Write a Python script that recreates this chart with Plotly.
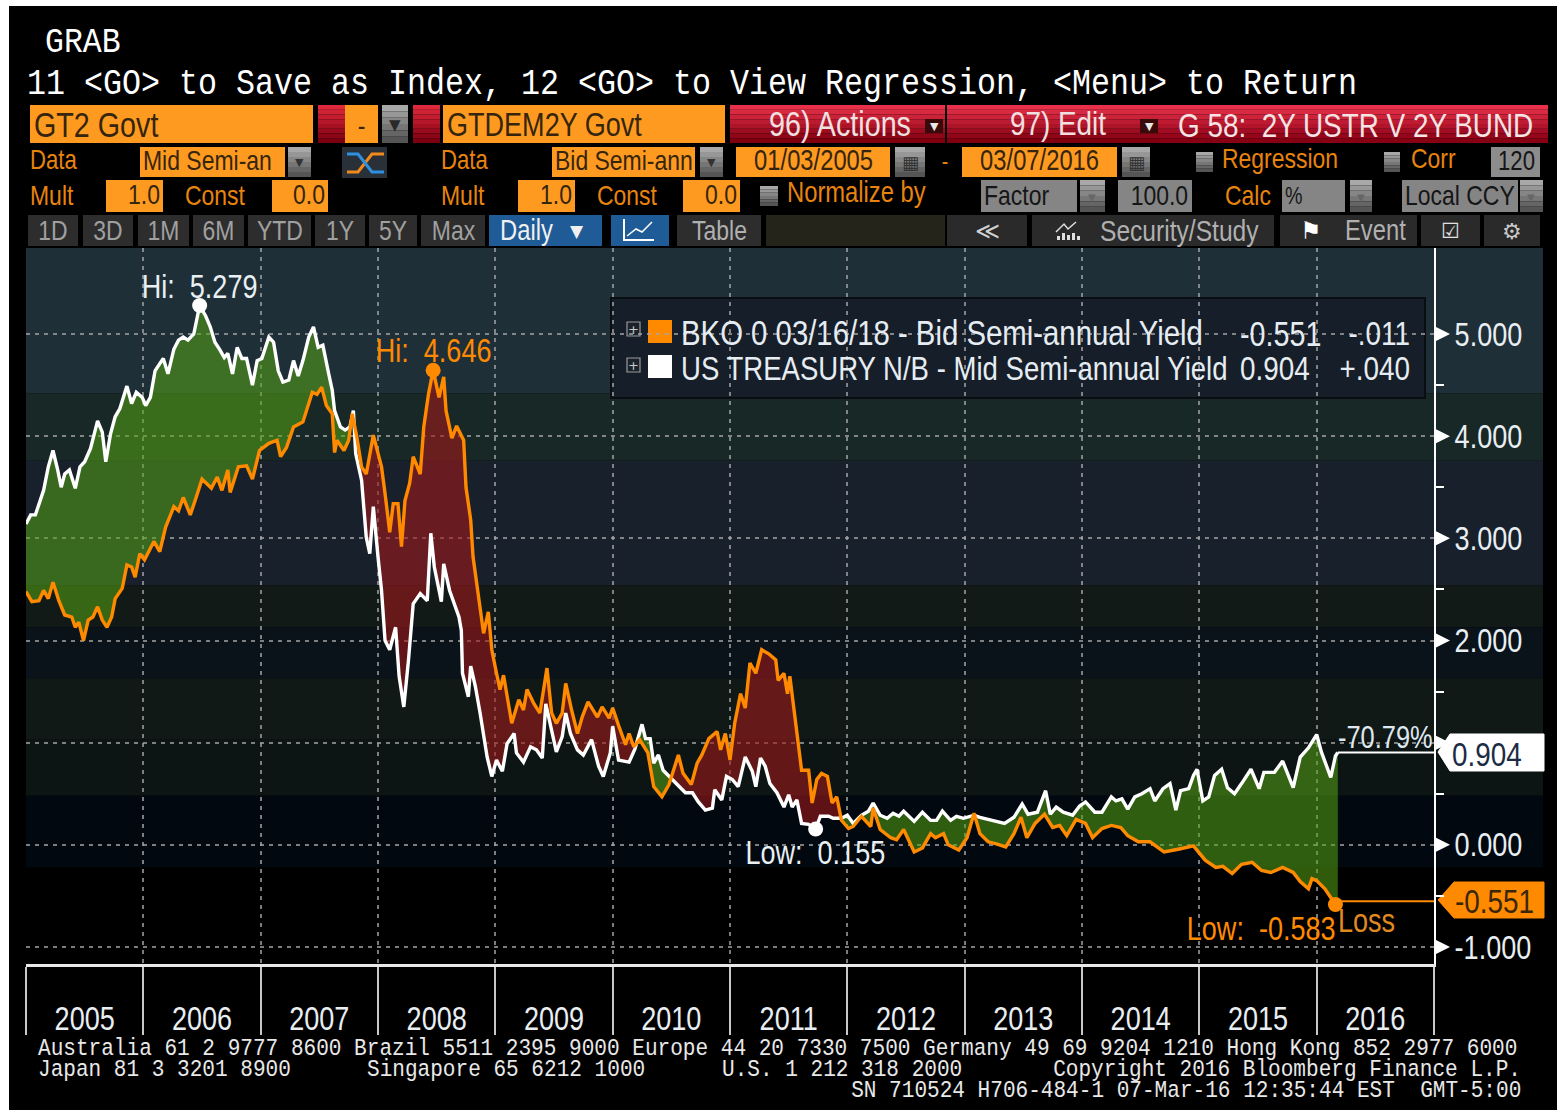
import numpy as np
import plotly.graph_objects as go

# ---------------- data (year fraction, yield) ----------------
white_x = [2005.00,2005.04,2005.08,2005.11,2005.15,2005.19,2005.23,2005.27,2005.30,2005.33,2005.37,2005.42,2005.46,2005.50,2005.55,2005.59,2005.61,2005.65,2005.68,2005.72,2005.76,2005.80,2005.84,2005.86,2005.90,2005.94,2005.99,
 2006.02,2006.06,2006.10,2006.14,2006.17,2006.21,2006.26,2006.30,2006.34,2006.38,2006.43,2006.48,2006.53,2006.57,2006.61,2006.65,2006.69,2006.72,2006.76,2006.80,2006.84,2006.88,2006.93,2006.97,
 2007.01,2007.07,2007.11,2007.15,2007.19,2007.24,2007.28,2007.32,2007.36,2007.41,2007.45,2007.49,2007.53,2007.58,2007.61,2007.63,2007.68,2007.72,2007.76,2007.79,2007.81,2007.86,2007.90,2007.93,2007.96,
 2008.00,2008.03,2008.06,2008.10,2008.15,2008.18,2008.22,2008.26,2008.30,2008.36,2008.42,2008.45,2008.48,2008.54,2008.56,2008.61,2008.69,2008.71,2008.72,2008.75,2008.77,2008.79,2008.83,2008.87,2008.93,2008.97,
 2009.01,2009.06,2009.10,2009.16,2009.18,2009.24,2009.30,2009.35,2009.40,2009.43,2009.47,2009.52,2009.57,2009.60,2009.64,2009.70,2009.75,2009.82,2009.88,2009.92,2009.98,
 2010.00,2010.05,2010.14,2010.19,2010.25,2010.28,2010.32,2010.35,2010.39,2010.43,2010.50,2010.56,2010.62,2010.68,2010.73,2010.79,2010.85,2010.87,2010.93,2010.97,
 2011.02,2011.07,2011.13,2011.19,2011.22,2011.26,2011.30,2011.34,2011.40,2011.46,2011.50,2011.53,2011.57,2011.61,2011.67,2011.73,2011.77,2011.84,2011.88,2011.95,
 2012.00,2012.05,2012.12,2012.18,2012.22,2012.28,2012.34,2012.39,2012.44,2012.48,2012.57,2012.64,2012.71,2012.76,2012.81,2012.88,2012.93,2012.99,
 2013.08,2013.13,2013.23,2013.34,2013.42,2013.49,2013.54,2013.62,2013.69,2013.73,2013.78,2013.84,2013.92,2013.98,
 2014.03,2014.11,2014.17,2014.25,2014.29,2014.34,2014.39,2014.45,2014.51,2014.58,2014.62,2014.69,2014.75,2014.80,2014.84,2014.91,2014.95,2014.98,
 2015.03,2015.08,2015.13,2015.19,2015.24,2015.30,2015.36,2015.44,2015.51,2015.55,2015.64,2015.71,2015.80,2015.86,2015.93,
 2016.00,2016.04,2016.12,2016.16,2016.18]
white_y = [3.14,3.23,3.23,3.34,3.47,3.70,3.86,3.67,3.50,3.63,3.67,3.49,3.70,3.75,3.88,4.06,4.15,4.04,3.75,4.02,4.19,4.27,4.42,4.49,4.32,4.43,4.38,
 4.30,4.38,4.64,4.71,4.76,4.61,4.85,4.94,4.97,4.94,5.00,5.279,5.18,5.07,4.92,4.85,4.77,4.81,4.61,4.87,4.76,4.76,4.50,4.74,
 4.76,4.97,4.92,4.64,4.53,4.55,4.74,4.59,4.74,4.97,5.07,4.87,4.89,4.61,4.45,4.25,4.09,4.06,4.09,4.25,3.83,3.57,3.01,2.85,3.31,
 2.82,2.49,2.00,1.91,2.13,1.65,1.35,1.81,2.36,2.46,2.39,3.05,2.72,2.38,2.75,2.49,2.23,2.10,1.68,1.55,1.45,1.75,1.55,1.29,0.86,0.67,
 0.83,0.72,0.99,1.09,0.90,0.81,0.96,0.93,0.85,1.38,1.16,0.91,1.06,1.29,1.09,0.93,0.88,1.03,0.77,0.67,0.90,
 1.16,0.83,0.81,0.94,1.18,1.04,1.04,0.80,0.88,0.73,0.65,0.57,0.51,0.51,0.42,0.34,0.36,0.54,0.44,0.67,
 0.64,0.57,0.86,0.72,0.57,0.85,0.77,0.60,0.51,0.37,0.49,0.37,0.44,0.21,0.20,0.155,0.28,0.28,0.26,0.26,
 0.29,0.21,0.29,0.33,0.41,0.29,0.26,0.31,0.28,0.33,0.23,0.32,0.24,0.24,0.33,0.24,0.28,0.26,
 0.29,0.27,0.24,0.21,0.27,0.40,0.30,0.32,0.53,0.30,0.37,0.32,0.29,0.38,
 0.42,0.32,0.32,0.47,0.43,0.45,0.35,0.47,0.50,0.55,0.43,0.55,0.60,0.34,0.53,0.55,0.68,0.74,
 0.43,0.47,0.68,0.74,0.56,0.50,0.60,0.74,0.55,0.71,0.71,0.82,0.56,0.86,0.95,
 1.08,0.91,0.66,0.87,0.904]

orange_x = [2005.00,2005.05,2005.11,2005.15,2005.19,2005.23,2005.28,2005.33,2005.39,2005.42,2005.45,2005.49,2005.53,2005.57,2005.61,2005.65,2005.69,2005.73,2005.76,2005.82,2005.86,2005.90,2005.93,2005.97,
 2006.01,2006.09,2006.14,2006.19,2006.26,2006.30,2006.34,2006.40,2006.45,2006.50,2006.58,2006.63,2006.67,2006.72,2006.74,2006.81,2006.88,2006.93,2006.99,
 2007.07,2007.14,2007.17,2007.22,2007.28,2007.36,2007.44,2007.48,2007.52,2007.56,2007.61,2007.63,2007.65,2007.71,2007.75,2007.78,2007.82,2007.86,2007.90,2007.96,
 2008.03,2008.06,2008.10,2008.13,2008.17,2008.20,2008.23,2008.27,2008.30,2008.36,2008.39,2008.43,2008.47,2008.52,2008.56,2008.58,2008.63,2008.67,2008.73,2008.75,2008.79,2008.81,2008.87,2008.90,2008.94,2008.97,
 2009.01,2009.04,2009.07,2009.10,2009.14,2009.20,2009.24,2009.27,2009.33,2009.38,2009.44,2009.48,2009.52,2009.57,2009.60,2009.65,2009.70,2009.74,2009.79,2009.87,2009.91,2009.97,
 2010.00,2010.05,2010.11,2010.14,2010.18,2010.23,2010.30,2010.35,2010.42,2010.48,2010.56,2010.60,2010.67,2010.72,2010.76,2010.82,2010.89,2010.92,2010.96,
 2011.00,2011.04,2011.09,2011.13,2011.17,2011.22,2011.27,2011.33,2011.39,2011.41,2011.46,2011.49,2011.51,2011.56,2011.60,2011.61,2011.67,2011.70,2011.74,2011.78,2011.83,2011.87,2011.91,2011.95,
 2012.01,2012.05,2012.12,2012.20,2012.22,2012.28,2012.37,2012.42,2012.48,2012.57,2012.64,2012.71,2012.75,2012.82,2012.86,2012.95,
 2013.02,2013.08,2013.13,2013.20,2013.27,2013.35,2013.42,2013.48,2013.53,2013.60,2013.68,2013.75,2013.81,2013.87,2013.95,
 2014.03,2014.09,2014.17,2014.25,2014.33,2014.39,2014.48,2014.58,2014.70,2014.83,2014.95,
 2015.05,2015.14,2015.20,2015.28,2015.36,2015.45,2015.53,2015.61,2015.71,2015.80,2015.86,2015.93,2015.96,
 2016.00,2016.07,2016.13,2016.16,2016.18]
orange_y = [2.48,2.38,2.39,2.49,2.41,2.57,2.39,2.25,2.23,2.13,2.18,2.00,2.20,2.23,2.33,2.20,2.13,2.23,2.41,2.51,2.74,2.72,2.62,2.85,
 2.79,2.97,2.87,3.11,3.31,3.27,3.40,3.23,3.40,3.58,3.49,3.60,3.47,3.67,3.45,3.70,3.71,3.58,3.86,
 3.93,3.96,3.80,3.89,4.09,4.14,4.43,4.41,4.48,4.30,4.22,3.84,3.96,3.86,3.96,4.22,3.99,3.70,3.63,4.01,
 3.70,3.44,3.06,3.34,3.34,2.92,3.37,3.54,3.80,3.63,4.09,4.41,4.646,4.38,4.58,4.25,3.98,4.10,3.96,3.50,3.18,2.82,2.30,2.07,2.28,1.91,
 1.68,1.52,1.66,1.45,1.19,1.42,1.32,1.52,1.38,1.29,1.73,1.29,1.19,1.29,1.58,1.32,1.09,1.25,1.40,1.25,1.35,1.24,
 1.34,1.17,0.98,1.09,0.96,1.03,0.90,0.57,0.47,0.59,0.88,0.70,0.59,0.80,0.88,1.04,1.11,0.93,1.09,
 0.83,1.19,1.48,1.34,1.78,1.68,1.91,1.87,1.81,1.61,1.68,1.48,1.65,1.22,0.83,0.73,0.73,0.41,0.64,0.70,0.67,0.41,0.47,0.24,
 0.16,0.18,0.28,0.18,0.36,0.15,0.07,0.05,0.15,-0.07,-0.03,0.11,0.07,0.11,0.00,-0.05,
 0.07,0.31,0.11,0.03,0.01,-0.02,0.11,0.27,0.07,0.21,0.30,0.17,0.19,0.09,0.25,
 0.21,0.07,0.16,0.19,0.17,0.09,0.03,0.03,-0.07,-0.04,-0.01,
 -0.15,-0.22,-0.21,-0.28,-0.19,-0.17,-0.25,-0.27,-0.22,-0.27,-0.36,-0.43,-0.33,
 -0.35,-0.43,-0.53,-0.583,-0.551]

year_labels = ["2005","2006","2007","2008","2009","2010","2011","2012","2013","2014","2015","2016"]
y_ticks = [-1,0,1,2,3,4,5]
y_ticktext = ["-1.000","0.000","","2.000","3.000","4.000","5.000"]
y_minor = [-0.5,0.5,1.5,2.5,3.5,4.5]
band_edges = [5.85,4.42,3.76,2.54,2.13,1.63,1.03,0.48,-0.22]
band_colors = ["#1f2f38","#182826","#18202c","#121a18","#0a121a","#111917","#0d1514","#02080f"]

WHITE="#ffffff"; ORANGE="#ff8a00"
NARROW="Liberation Sans"
MONO="Liberation Mono"
SANS="DejaVu Sans"
W,H=1557,1116
L,T,R,B=26,248,1434,964
NB="\u00a0"

def px(x): return (x-L)/(R-L)
def py(y): return (B-y)/(B-T)

shapes=[]; annots=[]
def box(x0,y0,x1,y1,c,lc=None,lw=0,layer="below"):
    shapes.append(dict(type="rect",xref="paper",yref="paper",x0=px(x0),x1=px(x1),y0=py(y0),y1=py(y1),
        fillcolor=c,line=dict(color=lc or c,width=lw),layer=layer))
def hexrgb(c): return [int(c[i:i+2],16) for i in (1,3,5)]
def grad(x0,y0,x1,y1,c0,c1,n=8):
    a,b=hexrgb(c0),hexrgb(c1)
    for i in range(n):
        t=i/(n-1)
        col="rgb(%d,%d,%d)"%tuple(a[k]+(b[k]-a[k])*t for k in range(3))
        box(x0,y0+(y1-y0)*i/n,x1,y0+(y1-y0)*(i+1)/n,col)
def txt(x,y,s,c="#ffffff",size=28,font=NARROW,anchor="left"):
    annots.append(dict(xref="paper",yref="paper",x=px(x),y=py(y),text=s,showarrow=False,xanchor=anchor,yanchor="middle",align=anchor,
        font=dict(family=font,size=size,color=c),borderpad=0,borderwidth=0))
def path(pts,c,w=2,close=False,fill=None):
    d="M"+" L".join("%f,%f"%(px(a),py(b)) for a,b in pts)+(" Z" if close else "")
    shapes.append(dict(type="path",xref="paper",yref="paper",path=d,line=dict(color=c,width=w),
        fillcolor=fill or "rgba(0,0,0,0)",layer="below"))

# page frame
box(9,6,W+5,1110,"#000000")
# chart bands
for i,c in enumerate(band_colors):
    shapes.append(dict(type="rect",xref="paper",yref="y",x0=0,x1=px(1543),y0=band_edges[i+1],y1=band_edges[i],
        fillcolor=c,line=dict(width=0),layer="below"))

OR="#ff9a21"; DK="#35250c"; LBL="#e8840e"
def grey(x0,y0,x1,y1): grad(x0,y0,x1,y1,"#a8a8a8","#555555",6)
def arrow(x,y,c="#2a2a2a",s=15): txt(x,y,"▼",c,s,SANS,"center")

txt(45,43,"GRAB","#ffffff",36,MONO)
txt(27,85,"11 &lt;GO&gt; to Save as Index, 12 &lt;GO&gt; to View Regression, &lt;Menu&gt; to Return","#ffffff",36.2,MONO)
# row 1
box(30,105,313,143,OR); txt(34,124,"GT2 Govt",DK,35)
grad(318,105,345,143,"#e0283c","#7c0010"); box(345,105,378,143,OR); txt(361,125,"-",DK,28,NARROW,"center")
grey(382,105,408,143); arrow(395,125)
grad(413,105,440,143,"#e0283c","#7c0010")
box(443,105,725,143,OR); txt(447,124,"GTDEM2Y Govt",DK,33)
grad(730,105,945,143,"#e8304a","#800010"); grad(947,105,1160,143,"#e8304a","#800010"); grad(1160,105,1548,143,"#e8304a","#880014")
txt(769,123,"96) Actions","#f2e0e0",35); box(925,119,943,133,"#3a0a0a"); arrow(934,126,"#e8e8e8",11)
txt(1010,123,"97) Edit","#f2e0e0",34); box(1140,119,1158,133,"#3a0a0a"); arrow(1149,126,"#e8e8e8",11)
txt(1178,125,"G 58:"+NB+NB+"2Y USTR V 2Y BUND","#f5e4e4",34)
# row 2
txt(30,160,"Data",LBL,27)
box(140,147,285,177,OR); txt(143,160,"Mid Semi-an",DK,28)
grey(288,147,311,177); arrow(299,162,"#333",11)
box(342,147,387,178,"#2a3038")
path([(347,172),(358,172),(372,154),(384,154)],"#f08a1c",3); path([(347,154),(358,154),(372,172),(384,172)],"#2f8fe0",3)
txt(441,160,"Data",LBL,27)
box(552,147,695,177,OR); txt(555,160,"Bid Semi-ann",DK,28)
grey(700,147,723,177); arrow(711,162,"#333",11)
box(736,147,890,177,OR); txt(813,160,"01/03/2005",DK,29,NARROW,"center")
grey(895,147,925,177); txt(910,162,"▦","#333",18,SANS,"center")
txt(945,160,"-",LBL,24,NARROW,"center")
box(962,147,1117,177,OR); txt(1039,160,"03/07/2016",DK,29,NARROW,"center")
grey(1122,147,1150,177); txt(1136,162,"▦","#333",18,SANS,"center")
grey(1196,152,1213,172); txt(1222,158,"Regression",LBL,28)
grey(1384,152,1400,172); txt(1411,158,"Corr",LBL,28)
box(1491,147,1540,177,"#8c8c8c"); txt(1516,161,"120","#151515",27,NARROW,"center")
# row 3
txt(30,195,"Mult",LBL,28)
box(106,180,163,212,OR); txt(160,194,"1.0",DK,28,NARROW,"right")
txt(185,195,"Const",LBL,28)
box(272,180,328,212,OR); txt(325,194,"0.0",DK,28,NARROW,"right")
txt(441,195,"Mult",LBL,28)
box(518,180,575,212,OR); txt(572,194,"1.0",DK,28,NARROW,"right")
txt(597,195,"Const",LBL,28)
box(683,180,740,212,OR); txt(737,194,"0.0",DK,28,NARROW,"right")
grey(760,186,778,206); txt(787,192,"Normalize by",LBL,29)
box(981,180,1077,212,"#858585"); txt(984,195,"Factor","#151515",28)
grey(1080,180,1105,212); arrow(1092,197,"#666",10)
box(1118,180,1192,212,"#858585"); txt(1188,195,"100.0","#151515",28,NARROW,"right")
txt(1225,195,"Calc",LBL,28)
box(1282,180,1345,212,"#858585"); txt(1285,195,"%","#151515",24)
grey(1350,180,1372,212); arrow(1361,197,"#666",10)
box(1402,180,1518,212,"#858585"); txt(1405,195,"Local CCY","#151515",28)
grey(1520,180,1543,212); arrow(1531,197,"#666",10)
# row 4
for x0,x1,s in [(28,78,"1D"),(83,133,"3D"),(138,189,"1M"),(193,244,"6M"),(248,311,"YTD"),(315,365,"1Y"),(369,417,"5Y"),(421,485,"Max")]:
    box(x0,215,x1,246,"#2d2d2d"); txt((x0+x1)/2,230,s,"#a0a0a0",28,NARROW,"center")
box(489,215,602,246,"#1f5b96"); txt(500,230,"Daily","#f0f0f0",29); txt(577,231,"▼","#f0f0f0",17,SANS,"center")
box(611,215,669,246,"#1f5b96")
path([(624,219),(624,240),(654,240)],"#ffffff",2); path([(627,236),(636,229),(642,232),(652,222)],"#ffffff",1.5)
box(677,215,761,246,"#2d2d2d"); txt(719,230,"Table","#b0b0b0",28,NARROW,"center")
box(766,215,945,246,"#25241a")
box(947,215,1027,246,"#2a2a2a"); txt(987,231,"≪","#d0d0d0",24,SANS,"center")
box(1032,215,1274,246,"#2a2a2a"); txt(1100,230,"Security/Study","#b0b0b0",30)
path([(1056,232),(1064,224),(1068,229),(1076,222)],"#e0e0e0",1.5)
for xb,h in [(1057,4),(1062,7),(1067,5),(1072,7),(1077,4)]:
    box(xb,240-h,xb+3,240,"#e0e0e0")
box(1280,215,1417,246,"#2a2a2a"); txt(1311,231,"⚑","#ffffff",24,SANS,"center"); txt(1345,230,"Event","#b0b0b0",29)
box(1421,215,1480,246,"#2a2a2a"); txt(1451,231,"☑","#e0e0e0",21,SANS,"center")
box(1484,215,1540,246,"#2a2a2a"); txt(1512,231,"⚙","#c8c8c8",22,SANS,"center")

# legend panel
shapes.append(dict(type="rect",xref="paper",yref="paper",x0=px(611),x1=px(1425),y0=py(398),y1=py(298),
    fillcolor="rgba(22,30,40,0.95)",line=dict(color="#0a0e12",width=2),layer="below"))
box(627,322,640,336,"#1a222c","#9a9a9a",1.2); txt(633.5,329,"+","#c8c8c8",13,SANS,"center")
box(627,358,640,372,"#1a222c","#9a9a9a",1.2); txt(633.5,365,"+","#c8c8c8",13,SANS,"center")
box(648,320,672,343,"#ff8a00"); box(648,355,672,378,"#ffffff")
LT="#e6edf2"
txt(681,333,"BKO 0 03/16/18 - Bid Semi-annual Yield",LT,35.8)
txt(1240,333,"-0.551",LT,35); txt(1410,333,"-.011",LT,34,NARROW,"right")
txt(681,368,"US TREASURY N/B - Mid Semi-annual Yield",LT,33.6)
txt(1240,368,"0.904",LT,34); txt(1410,368,"+.040",LT,34,NARROW,"right")

# value tags
path([(1438,752),(1450,734),(1544,734),(1544,771),(1450,771)],"#ffffff",1,True,"#ffffff")
txt(1452,754,"0.904","#1c2c44",34)
path([(1438,900),(1454,882),(1544,882),(1544,918),(1454,918)],"#ff8a00",1,True,"#ff8a00")
txt(1455,901,"-0.551","#3a2608",34)
txt(1338,737,"-70.79%","#dfe8f0",31)
txt(1338,920,"Loss","#e08a20",33)

# hi/low annotations on data
def note(xv,yv,s,c,dy,anchor="center"):
    annots.append(dict(xref="x",yref="y",x=xv,y=yv,text=s,showarrow=False,yshift=dy,xanchor=anchor,yanchor="middle",align=anchor,
        font=dict(family=NARROW,size=33,color=c)))
note(2006.48,5.279,"Hi:"+NB+NB+"5.279","#e8f0f4",19)
note(2008.47,4.646,"Hi:"+NB+NB+"4.646",ORANGE,20)
note(2011.73,0.155,"Low:"+NB+NB+"0.155","#e8f0f4",-23)
note(2016.18,-0.583,"Low:"+NB+NB+"-0.583",ORANGE,-24,"right")

# footer
FT="#e8e8e8"
txt(38,1048,"Australia 61 2 9777 8600 Brazil 5511 2395 9000 Europe 44 20 7330 7500 Germany 49 69 9204 1210 Hong Kong 852 2977 6000",FT,24.1,MONO)
txt(38,1069,"Japan 81 3 3201 8900",FT,24.1,MONO)
txt(367,1069,"Singapore 65 6212 1000",FT,24.1,MONO)
txt(722,1069,"U.S. 1 212 318 2000",FT,24.1,MONO)
txt(1521,1069,"Copyright 2016 Bloomberg Finance L.P.",FT,24.1,MONO,"right")
txt(1521,1090,"SN 710524 H706-484-1 07-Mar-16 12:35:44 EST  GMT-5:00",FT,24.1,MONO,"right")

# y axis tick arrows
for v in y_ticks:
    d=7/102.17
    shapes.append(dict(type="path",xref="paper",yref="y",
        path="M%f,%f L%f,%f L%f,%f Z"%(px(1436),v+d,px(1450),v,px(1436),v-d),
        fillcolor="#ffffff",line=dict(width=0),layer="above"))

# ---------------- fills between the two series ----------------
gx=np.array(sorted(set(white_x)|set(orange_x)))
wy=np.interp(gx,white_x,white_y); oy=np.interp(gx,orange_x,orange_y)
def polygons():
    d=wy-oy
    gf_x=[];gf_y=[];rf_x=[];rf_y=[]
    seg=[(gx[0],wy[0],oy[0])]
    def flush(pos):
        xs=[s[0] for s in seg]; a=[s[1] for s in seg]; b=[s[2] for s in seg]
        tx=xs+xs[::-1]+[None]; ty=a+b[::-1]+[None]
        if pos: gf_x.extend(tx); gf_y.extend(ty)
        else: rf_x.extend(tx); rf_y.extend(ty)
    for i in range(1,len(gx)):
        if d[i-1]*d[i]<0:
            t=d[i-1]/(d[i-1]-d[i]); xc=gx[i-1]+t*(gx[i]-gx[i-1]); yc=wy[i-1]+t*(wy[i]-wy[i-1])
            seg.append((xc,yc,yc)); flush(d[i-1]>0); seg[:]=[(xc,yc,yc)]
        seg.append((gx[i],wy[i],oy[i]))
    flush(d[-1]>0)
    return gf_x,gf_y,rf_x,rf_y
gf_x,gf_y,rf_x,rf_y=polygons()

fig=go.Figure()
fig.add_trace(go.Scatter(x=gf_x,y=gf_y,fill="toself",mode="none",fillcolor="rgba(85,165,20,0.55)",hoverinfo="skip"))
fig.add_trace(go.Scatter(x=rf_x,y=rf_y,fill="toself",mode="none",fillcolor="rgba(158,25,25,0.60)",hoverinfo="skip"))
fig.add_trace(go.Scatter(x=white_x,y=white_y,mode="lines",line=dict(color=WHITE,width=3.4),name="US TREASURY N/B"))
fig.add_trace(go.Scatter(x=orange_x,y=orange_y,mode="lines",line=dict(color=ORANGE,width=3.4),name="BKO 0 03/16/18"))
# last value leaders
fig.add_trace(go.Scatter(x=[white_x[-1],2017],y=[white_y[-1]]*2,mode="lines",line=dict(color=WHITE,width=2)))
fig.add_trace(go.Scatter(x=[orange_x[-1],2017],y=[orange_y[-1]]*2,mode="lines",line=dict(color=ORANGE,width=2)))
# hi/low markers
fig.add_trace(go.Scatter(x=[white_x[int(np.argmax(white_y))],white_x[white_y.index(0.155)]],y=[max(white_y),0.155],mode="markers",
    marker=dict(color=WHITE,size=15)))
fig.add_trace(go.Scatter(x=[orange_x[int(np.argmax(orange_y))],orange_x[orange_y.index(-0.583)]],y=[max(orange_y),-0.583],mode="markers",
    marker=dict(color=ORANGE,size=15)))

GRID="rgba(165,165,165,0.75)"
years=[2005+i for i in range(13)]
fig.update_layout(width=W,height=H,margin=dict(l=L,r=W-R,t=T,b=H-B,pad=0),autosize=False,showlegend=False,
    paper_bgcolor="#ffffff",plot_bgcolor="rgba(0,0,0,0)",shapes=shapes,annotations=annots,
    xaxis=dict(automargin=False,range=[2005,2017],tickmode="array",tickvals=[2005.5+i for i in range(12)],ticktext=year_labels,
        ticks="outside",ticklen=23,tickcolor="rgba(0,0,0,0)",showgrid=False,zeroline=False,
        tickfont=dict(family=NARROW,size=33,color="#e8eef2"),showline=True,linecolor="#e8e8e8",linewidth=3,
        minor=dict(tickmode="array",tickvals=years,ticks="outside",ticklen=68,tickcolor="#c8c8c8",tickwidth=1.5,
                   showgrid=True,griddash="4px,5px",gridcolor=GRID,gridwidth=1.5)),
    yaxis=dict(automargin=False,range=[-1.166,5.842],side="right",tickmode="array",tickvals=y_ticks,ticktext=y_ticktext,
        ticks="outside",ticklen=12,tickcolor="rgba(0,0,0,0)",showgrid=True,griddash="4px,5px",gridcolor=GRID,gridwidth=1.5,zeroline=False,
        tickfont=dict(family=NARROW,size=33,color="#e8eef2"),showline=True,linecolor="#ffffff",linewidth=2,
        minor=dict(tickmode="array",tickvals=y_minor,ticks="outside",ticklen=8,tickcolor="#ffffff",tickwidth=1.5,showgrid=False)))
POST = """
document.body.style.margin='0';document.body.style.overflow='hidden';
document.querySelectorAll('svg text').forEach(function(t){
  var f=t.style.fontFamily||'';
  var s=f.indexOf('Mono')>=0?0.875:(f.indexOf('Liberation Sans')>=0?0.82:1);
  if(s===1)return;
  var x=parseFloat(t.getAttribute('x'))||0;
  var tr=t.getAttribute('transform')||'';
  t.setAttribute('transform',tr+' translate('+x+',0) scale('+s+',1) translate('+(-x)+',0)');
});
"""
fig.write_html("out.html",config={"displayModeBar":False},post_script=POST)
